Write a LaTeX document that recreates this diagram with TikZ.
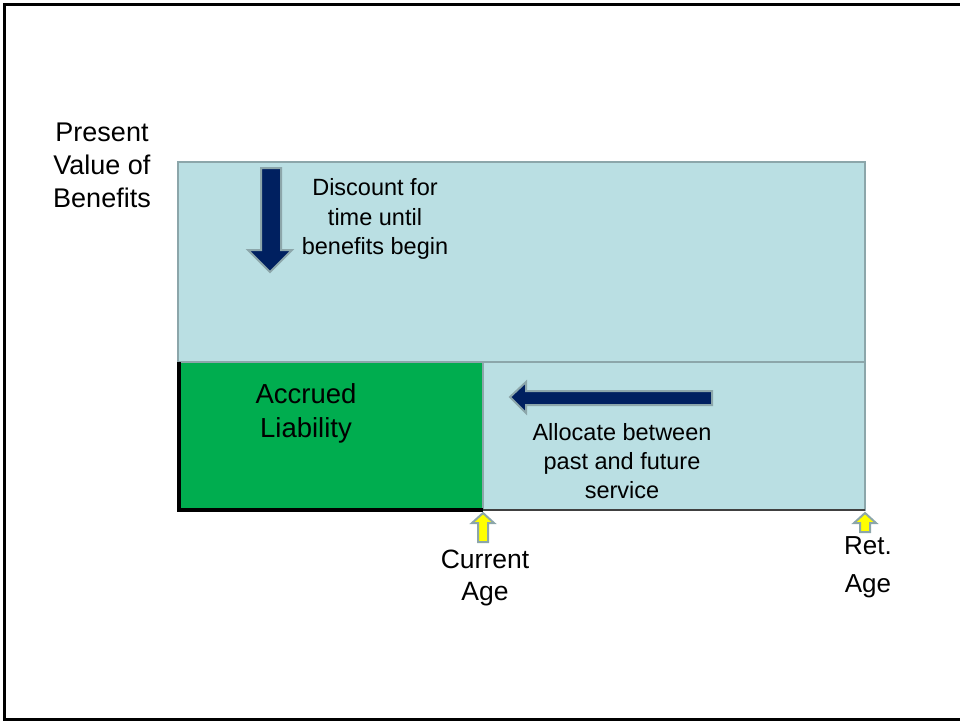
\documentclass[tikz,border=0pt]{standalone}
\usepackage{fontspec}
\setmainfont{Liberation Sans}
\definecolor{lblue}{HTML}{BADFE3}
\definecolor{bgrey}{HTML}{8CA6AA}
\definecolor{lgreen}{HTML}{00AD4F}
\definecolor{navy}{HTML}{002060}
\definecolor{ayellow}{HTML}{FFFF00}
\begin{document}
\begin{tikzpicture}[x=1pt,y=-1pt,
  box/.style={fill=lblue,draw=bgrey,line width=2.5pt},
  navyarrow/.style={fill=navy,draw=bgrey,line width=2pt,line join=miter},
  yarrow/.style={fill=ayellow,draw=bgrey,line width=2pt,line join=miter},
  lbl/.style={align=center,inner sep=0pt,text=black}]
\useasboundingbox (0,0) rectangle (960,721);
\draw[line width=3pt] (960,4) -- (4,4) -- (4,719) -- (960,719);
% top box
\path[box] (178,162) rectangle (865,362);
% lower right box
\path[box] (483,362) rectangle (865,510);
% green box
\path[fill=lgreen] (179,363) rectangle (483,510);
\draw[line width=2pt,bgrey] (483,362) -- (483,510);
\draw[line width=3.5pt] (179,362) -- (179,510) -- (483,510);
\draw[line width=2pt,black!75] (483,510) -- (865,510);
% down arrow
\path[navyarrow] (261,168) -- (281,168) -- (281,250) -- (292,250) -- (270,272) -- (248,250) -- (261,250) -- cycle;
% left arrow
\path[navyarrow] (712,391) -- (712,405) -- (526,405) -- (526,413) -- (510,397) -- (526,382) -- (526,391) -- cycle;
% yellow arrows
\path[yarrow] (478,542) -- (478,523) -- (472,523) -- (483,513) -- (494,523) -- (488,523) -- (488,542) -- cycle;
\path[yarrow] (860,532) -- (860,523) -- (854,523) -- (865,513) -- (876,523) -- (870,523) -- (870,532) -- cycle;
% texts
\node[lbl,font=\fontsize{27}{33}\selectfont] (pv) at (102,165) {Present\\Value of\\Benefits};
\node[lbl,font=\fontsize{23.5}{29.5}\selectfont] (disc) at (375,219) {Discount for\\time until\\benefits begin};
\node[lbl,font=\fontsize{27.5}{34}\selectfont] (acc) at (306,413) {Accrued\\Liability};
\node[lbl,font=\fontsize{23.5}{29}\selectfont] (alloc) at (622,461) {Allocate between\\past and future\\service};
\node[lbl,font=\fontsize{26.5}{32}\selectfont] (cur) at (485,578) {Current\\Age};
\node[lbl,font=\fontsize{26}{38}\selectfont] (ret) at (868,567) {Ret.\\Age};
\end{tikzpicture}
\end{document}
